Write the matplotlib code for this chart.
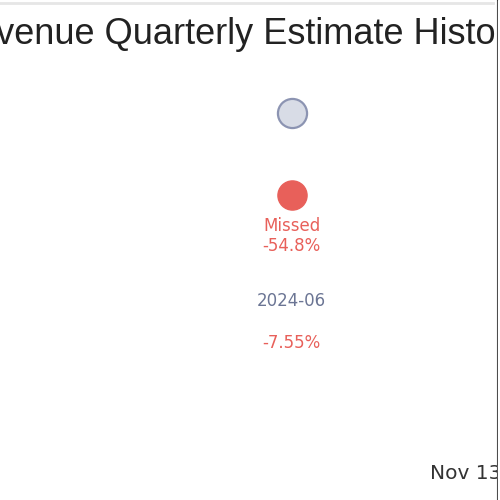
import matplotlib.pyplot as plt
from matplotlib.lines import Line2D

plt.rcParams["font.family"] = ["Liberation Sans", "DejaVu Sans"]

# data
title = "Revenue Quarterly Estimate History"
quarters = ["2024-06"]
estimates = [1.0]
actuals = [0.452]
surprise_labels = ["Missed\n-54.8%"]
revisions = ["-7.55%"]
date_label = "Nov 13, 2024"

SLATE = "#6b7594"
EST_FILL = "#d8dce6"
EST_EDGE = "#8c94b2"
RED = "#e8605a"
SMALL = ["DejaVu Sans"]

fig = plt.figure(figsize=(5, 5), dpi=100)
ax = fig.add_axes([0, 0, 1, 1])
ax.set_axis_off()
ax.set_xlim(-1.4, 1.0)
ax.set_ylim(-1.587, 1.755)

x = list(range(len(quarters)))
ax.scatter(x, estimates, s=440, color=EST_FILL, edgecolor=EST_EDGE, linewidth=1.6, zorder=3)
ax.scatter(x, actuals, s=440, color=RED, edgecolor=RED, linewidth=1, zorder=3)

for xi, act, lab, q, rev in zip(x, actuals, surprise_labels, quarters, revisions):
    ax.annotate(lab, (xi, act), xytext=(0, -16), textcoords="offset points",
                ha="center", va="top", color=RED, fontsize=12, linespacing=1.1,
                family=SMALL)
    ax.text(xi, 0.398, q, transform=ax.get_xaxis_transform(), ha="center",
            va="center", color=SLATE, fontsize=12, family=SMALL)
    ax.text(xi, 0.314, rev, transform=ax.get_xaxis_transform(), ha="center",
            va="center", color=RED, fontsize=12, family=SMALL)

fig.text(0.475, 0.932, title, ha="center", va="center", fontsize=26, color="#222222")
fig.text(0.86, 0.053, date_label, ha="left", va="center", fontsize=14.5,
         color="#333333", family=SMALL)

fig.add_artist(Line2D([0, 0.986], [0.994, 0.994], color="#e6e6e6", linewidth=2))
fig.add_artist(Line2D([0.995, 0.995], [0, 1], color="#222222", linewidth=1.5))
fig.patches.append(plt.Rectangle((0.996, 0), 0.004, 1, transform=fig.transFigure,
                                 color="white", zorder=5))

fig.savefig("out.png", dpi=100)
